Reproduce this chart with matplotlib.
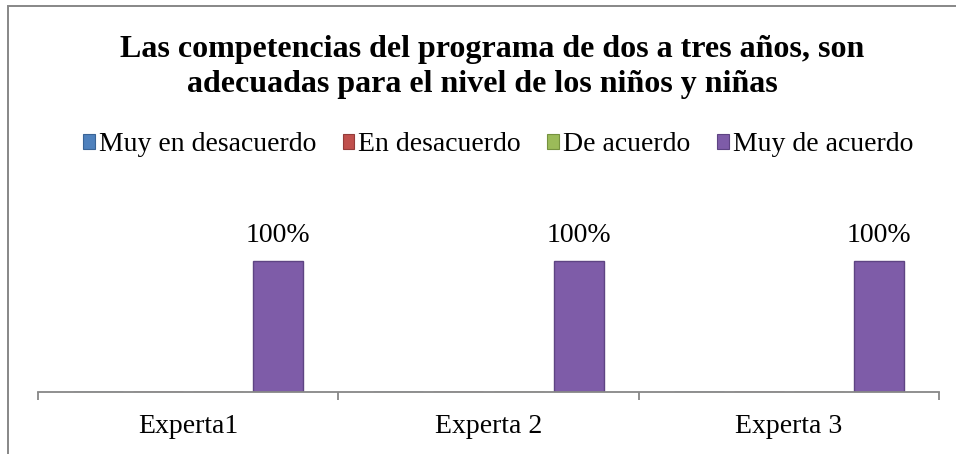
import matplotlib
matplotlib.use("Agg")
import matplotlib.pyplot as plt
from matplotlib.patches import Rectangle, Patch
import numpy as np

plt.rcParams['font.family'] = ['Liberation Serif', 'DejaVu Serif']

categories = ["Experta1", "Experta 2", "Experta 3"]
series_names = ["Muy en desacuerdo", "En desacuerdo", "De acuerdo", "Muy de acuerdo"]
muy_desacuerdo = [0, 0, 0]
en_desacuerdo = [0, 0, 0]
de_acuerdo = [0, 0, 0]
muy_acuerdo = [100, 100, 100]
series_values = [muy_desacuerdo, en_desacuerdo, de_acuerdo, muy_acuerdo]
series_colors = ["#4F81BD", "#C0504D", "#9BBB59", "#7E5CA8"]
edge_colors = ["#3A6496", "#943C3A", "#76923F", "#5E4483"]
title_lines = ["Las competencias del programa de dos a tres años, son",
               "adecuadas para el nivel de los niños y niñas"]

W, H = 956, 454
fig = plt.figure(figsize=(W / 100, H / 100), dpi=100)

# chart frame (cropped on right and bottom)
fig.patches.append(Rectangle((7.5 / W, -0.1), 1.2, 1 - 5.5 / H + 0.1,
                             transform=fig.transFigure, fill=False,
                             edgecolor="#878787", linewidth=1.4, clip_on=False))

ax_left, ax_right = 38 / W, 939 / W
ax_bottom = (H - 392) / H
ax_top = (H - 225) / H
ax = fig.add_axes([ax_left, ax_bottom, ax_right - ax_left, ax_top - ax_bottom])
ax.patch.set_alpha(0)

x = np.arange(len(categories))
step = 0.2
width = 0.1665
for i, (vals, col, ec, name) in enumerate(zip(series_values, series_colors, edge_colors, series_names)):
    bars = ax.bar(x + (i - 1.5) * step, vals, width, color=col, edgecolor=ec,
                  linewidth=1.0, label=name)
    if i == 3:
        ax.bar_label(bars, labels=[f"{v}%" for v in vals], padding=9, fontsize=20)

ax.set_xlim(-0.5, len(categories) - 0.5)
ax.set_ylim(0, 100 * (392 - 225) / (392 - 261))
ax.set_yticks([])
for s in ["top", "right", "left"]:
    ax.spines[s].set_visible(False)
ax.spines["bottom"].set_color("#878787")
ax.spines["bottom"].set_linewidth(1.3)

ax.set_xticks(np.arange(len(categories) + 1) - 0.5)
ax.set_xticklabels([])
ax.tick_params(axis="x", which="major", direction="out", length=6, width=1.3, color="#878787")
ax.set_xticks(x, minor=True)
ax.set_xticklabels(categories, minor=True, fontsize=20)
ax.tick_params(axis="x", which="minor", length=0, pad=16)

# title
fig.text(492 / W, 1 - 57 / H, title_lines[0], ha="center", va="baseline",
         fontsize=23, fontweight="bold")
fig.text(482.5 / W, 1 - 92 / H, title_lines[1], ha="center", va="baseline",
         fontsize=23, fontweight="bold")

handles = [Patch(facecolor=c, edgecolor=e, linewidth=0.8) for c, e in zip(series_colors, edge_colors)]
fig.legend(handles, series_names, loc="center", bbox_to_anchor=(498 / W, 1 - 145 / H),
           ncol=4, frameon=False, fontsize=20, handlelength=0.42, handleheight=0.42,
           handletextpad=0.15, columnspacing=0.95, borderpad=0, borderaxespad=0)

fig.savefig("out.png", dpi=100)
